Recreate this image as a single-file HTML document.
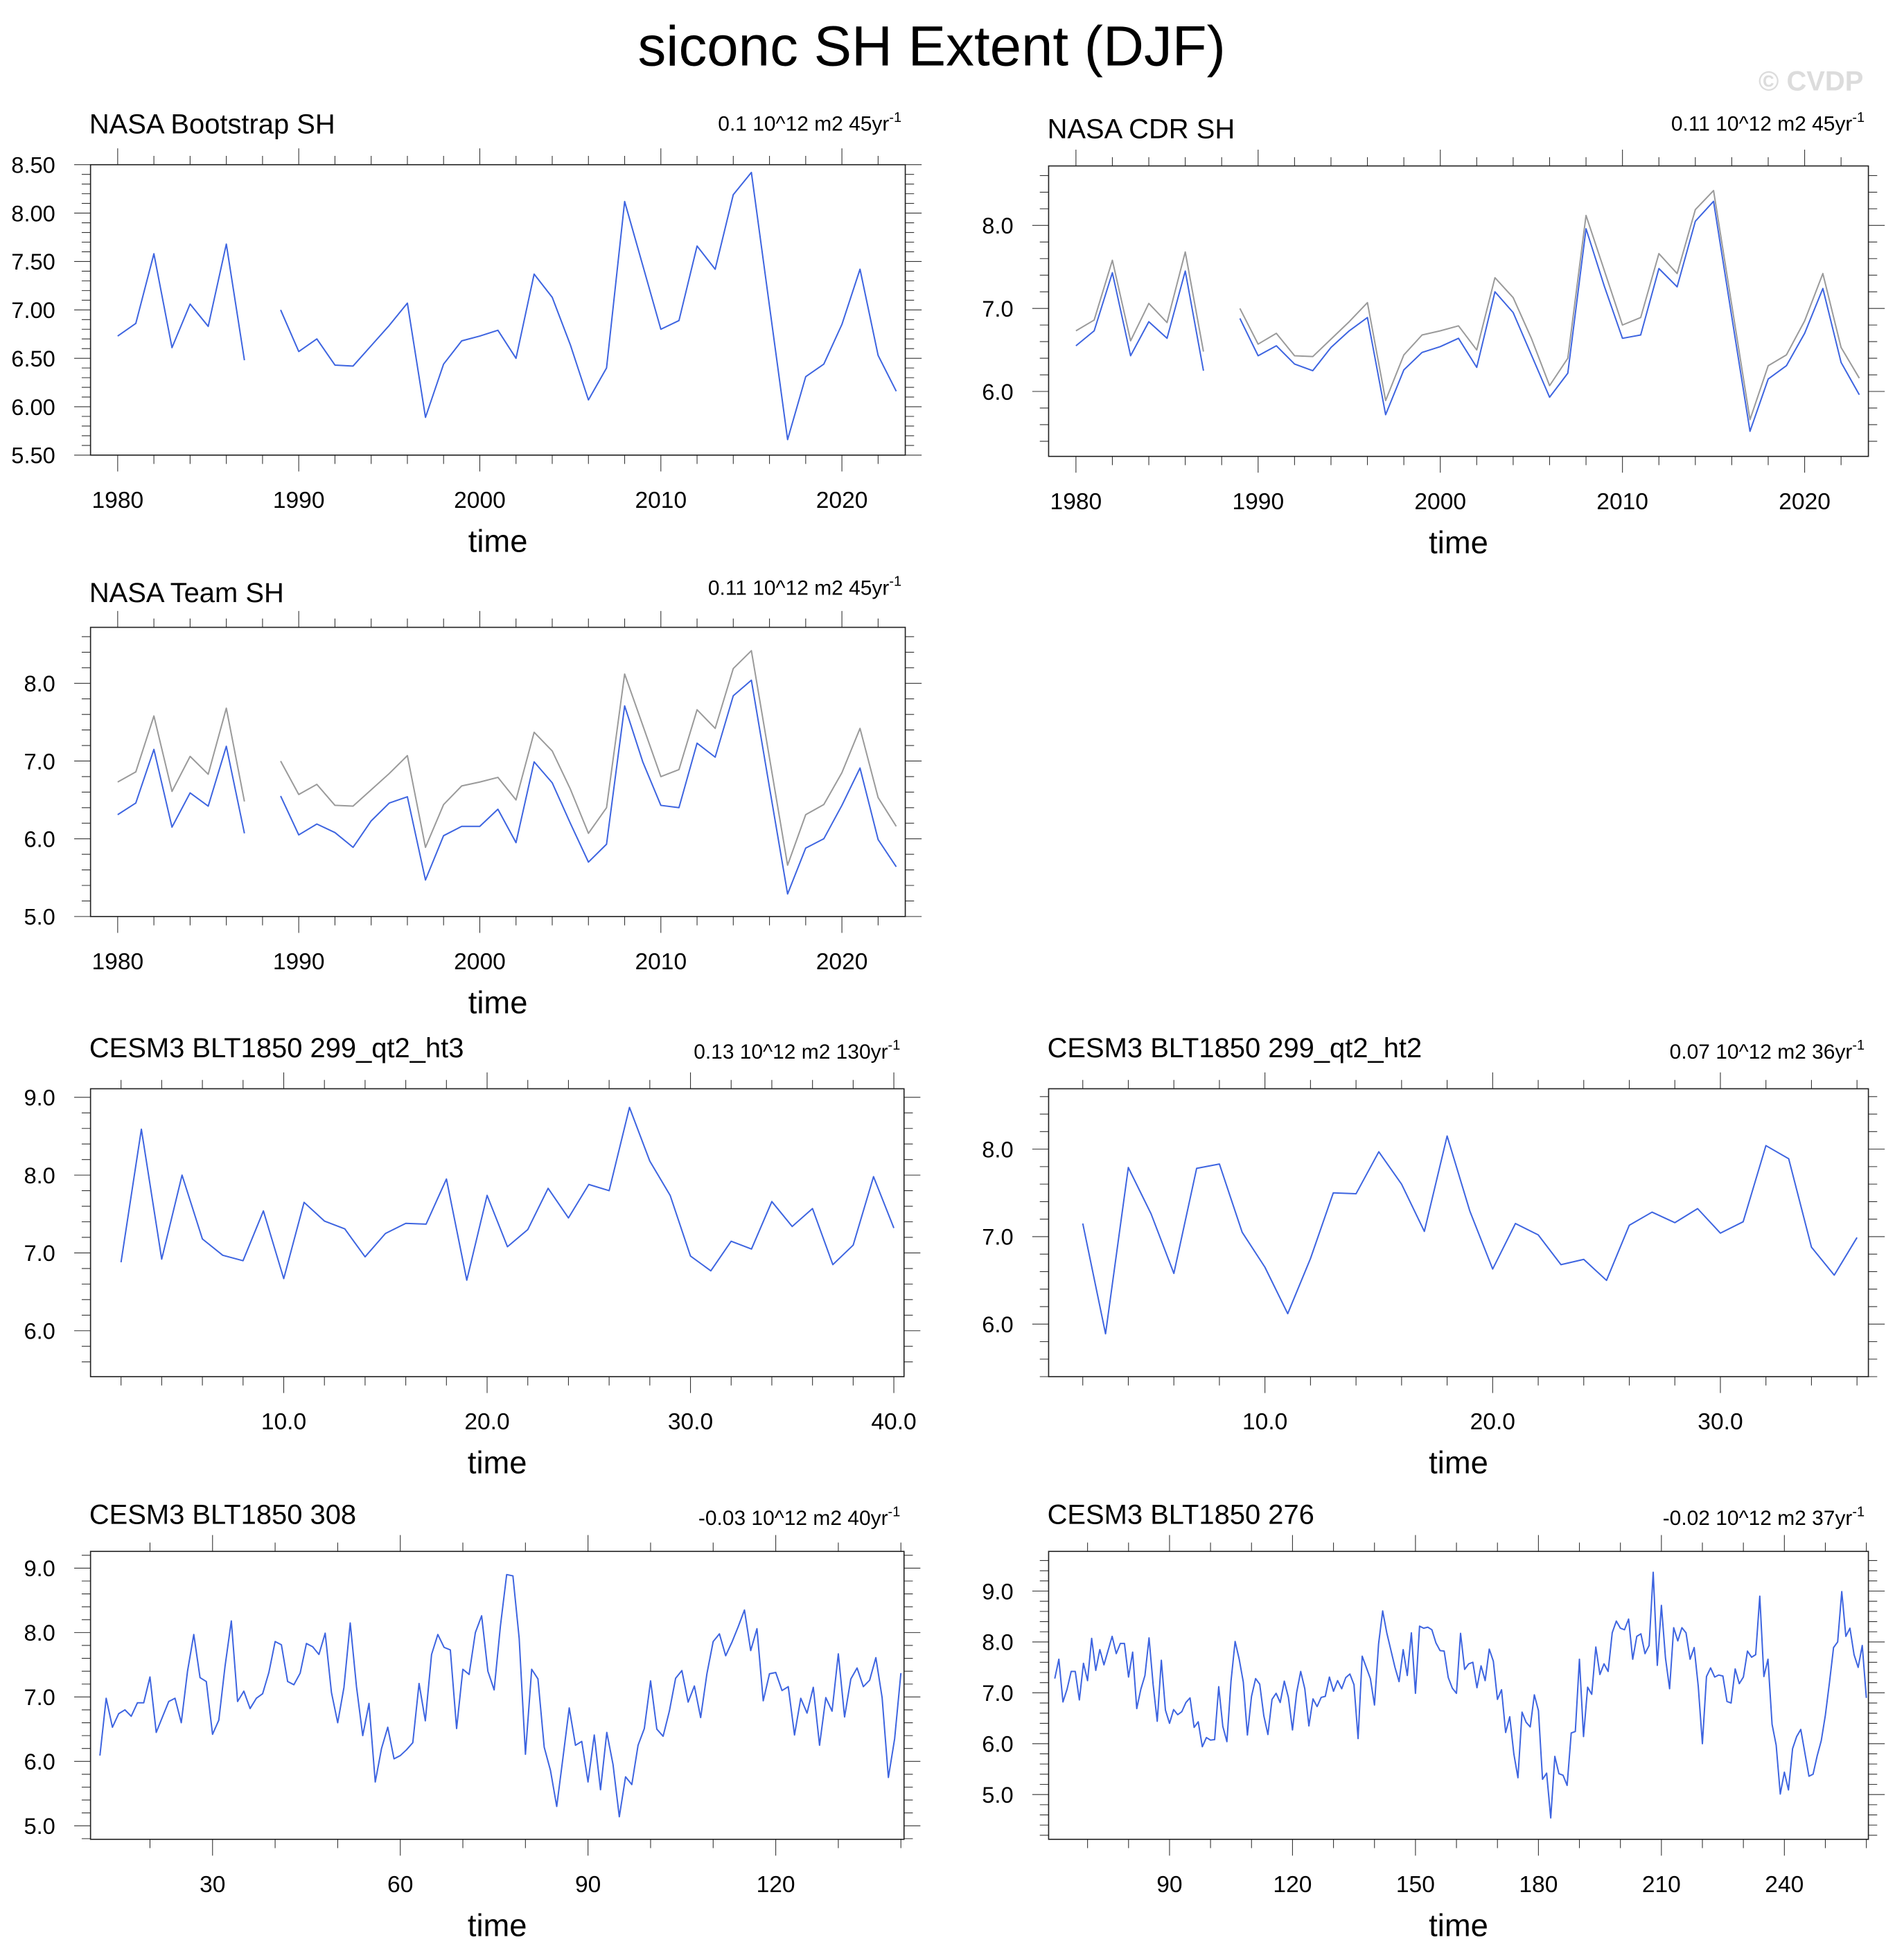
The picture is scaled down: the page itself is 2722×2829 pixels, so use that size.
<!DOCTYPE html>
<html><head><meta charset="utf-8"><title>siconc SH Extent (DJF)</title>
<style>
html,body{margin:0;padding:0;background:#fff;}
svg{display:block;font-family:"Liberation Sans",Arial,sans-serif;}
</style></head>
<body>
<svg id="fig" xmlns="http://www.w3.org/2000/svg" width="2722" height="2829" viewBox="0 0 1500 1559" preserveAspectRatio="none">
<rect x="0" y="0" width="1500" height="1559" fill="#fff"/>
<text x="741" y="52" font-size="45" text-anchor="middle" fill="#000">siconc SH Extent (DJF)</text>
<text x="1482" y="72" font-size="22" font-weight="bold" text-anchor="end" fill="#dcdcdc">© CVDP</text>
</svg>
<script>
// ---- data ----
const yearsStart = 1980;
const bootstrapVals = [6.73,6.86,7.58,6.61,7.06,6.83,7.68,6.48,null,7.00,6.57,6.70,6.43,6.42,6.63,6.84,7.07,5.89,6.44,6.68,6.73,6.79,6.50,7.37,7.13,6.64,6.07,6.40,8.12,7.46,6.80,6.89,7.66,7.42,8.19,8.42,7.04,5.66,6.31,6.44,6.85,7.42,6.53,6.16];
const cdrVals = [6.55,6.73,7.43,6.43,6.84,6.64,7.45,6.25,null,6.88,6.43,6.55,6.33,6.25,6.53,6.73,6.89,5.72,6.26,6.47,6.54,6.64,6.29,7.20,6.95,6.44,5.93,6.22,7.96,7.27,6.64,6.68,7.48,7.26,8.05,8.29,6.90,5.52,6.15,6.31,6.70,7.24,6.35,5.96];
const teamVals = [6.31,6.46,7.15,6.15,6.59,6.42,7.19,6.07,null,6.55,6.05,6.19,6.08,5.89,6.23,6.46,6.54,5.47,6.04,6.16,6.16,6.38,5.95,6.99,6.72,6.20,5.70,5.93,7.71,6.99,6.43,6.40,7.23,7.05,7.84,8.04,6.66,5.29,5.88,6.00,6.43,6.91,5.99,5.64];
const ht3Start = 2;
const ht3Vals = [6.88,8.59,6.92,8.00,7.18,6.97,6.90,7.54,6.67,7.65,7.41,7.31,6.95,7.25,7.38,7.37,7.95,6.65,7.74,7.08,7.30,7.83,7.45,7.88,7.80,8.87,8.18,7.74,6.96,6.77,7.15,7.05,7.66,7.34,7.57,6.85,7.10,7.98,7.32];
const ht2Start = 2;
const ht2Vals = [7.15,5.89,7.79,7.26,6.58,7.78,7.83,7.05,6.65,6.12,6.75,7.50,7.49,7.97,7.60,7.06,8.15,7.29,6.63,7.15,7.02,6.68,6.74,6.50,7.13,7.28,7.16,7.32,7.04,7.17,8.04,7.89,6.88,6.56,6.99];
const r308Start = 12;
const r308Vals = [6.09,6.98,6.53,6.74,6.80,6.70,6.91,6.91,7.31,6.45,
6.69,6.93,6.98,6.60,7.40,7.97,7.30,7.24,6.42,6.64,
7.48,8.18,6.93,7.09,6.82,6.98,7.05,7.38,7.86,7.81,
7.24,7.19,7.37,7.83,7.78,7.66,7.99,7.07,6.60,7.15,
8.15,7.16,6.40,6.90,5.68,6.20,6.53,6.04,6.09,6.18,
6.29,7.21,6.63,7.66,7.97,7.77,7.73,6.51,7.43,7.35,
8.00,8.26,7.40,7.11,8.10,8.90,8.88,7.91,6.11,7.43,
7.28,6.22,5.86,5.30,6.06,6.83,6.25,6.31,5.68,6.41,
5.56,6.45,5.95,5.14,5.76,5.64,6.25,6.51,7.25,6.50,
6.39,6.78,7.29,7.41,6.92,7.17,6.68,7.36,7.86,7.98,
7.64,7.85,8.09,8.35,7.72,8.06,6.94,7.36,7.38,7.10,
7.16,6.41,6.98,6.75,7.15,6.25,6.99,6.78,7.67,6.69,
7.28,7.45,7.16,7.26,7.61,6.99,5.75,6.35,7.37];
const r276Start = 62;
const r276Vals = [7.28,7.66,6.82,7.07,7.42,7.42,6.86,7.58,7.24,8.07,
7.44,7.85,7.55,7.83,8.11,7.77,7.97,7.97,7.31,7.80,
6.69,7.07,7.34,8.08,7.16,6.44,7.64,6.66,6.40,6.67,
6.57,6.63,6.81,6.90,6.32,6.43,5.94,6.12,6.07,6.08,
7.12,6.34,6.04,7.23,8.01,7.66,7.21,6.17,6.93,7.28,
7.17,6.55,6.18,6.87,6.99,6.81,7.23,6.91,6.27,7.00,
7.42,7.08,6.35,6.88,6.73,6.91,6.93,7.31,7.03,
7.24,7.08,7.30,7.37,7.16,6.10,7.72,7.50,7.28,6.76,
7.96,8.61,8.18,7.84,7.50,7.22,7.85,7.34,8.18,6.99,
8.31,8.27,8.29,8.24,7.98,7.83,7.82,7.30,7.09,6.99,
8.17,7.46,7.57,7.60,7.10,7.53,7.24,7.86,7.62,6.87,
7.06,6.22,6.53,5.80,5.33,6.62,6.42,6.33,6.96,6.65,
5.30,5.42,4.54,5.75,5.41,5.38,5.18,6.21,6.24,7.66,
6.14,7.11,6.97,7.90,7.36,7.57,7.42,8.18,
8.41,8.27,8.24,8.45,7.66,8.11,8.16,7.77,7.93,9.37,
7.54,8.72,7.68,7.08,8.28,8.02,8.28,8.18,7.66,7.89,
7.12,6.00,7.32,7.49,7.31,7.35,7.33,6.83,6.80,7.47,
7.18,7.31,7.82,7.70,7.75,8.90,7.32,7.66,6.38,5.97,
5.01,5.44,5.09,5.90,6.14,6.28,5.82,5.36,5.40,5.76,
6.06,6.56,7.20,7.89,8.00,8.99,8.11,8.27,7.75,7.50,
7.93,6.90];
// tick label arrays
const yearTicks = [1980,1990,2000,2010,2020];
const ht3Ticks = [10,20,30,40];
const ht2Ticks = [10,20,30];
const r308Ticks = [30,60,90,120];
const r276Ticks = [90,120,150,180,210,240];
const bootYTicks = [5.5,6.0,6.5,7.0,7.5,8.0,8.5];
const cdrYTicks = [6,7,8];
const teamYTicks = [5,6,7,8];
const ht3YTicks = [6,7,8,9];
const ht2YTicks = [6,7,8];
const longYTicks = [5,6,7,8,9];
const titles = ["NASA Bootstrap SH","NASA CDR SH","NASA Team SH","CESM3 BLT1850 299_qt2_ht3","CESM3 BLT1850 299_qt2_ht2","CESM3 BLT1850 308","CESM3 BLT1850 276"];
const trends = ["0.1 10^12 m2 45yr","0.11 10^12 m2 45yr","0.11 10^12 m2 45yr","0.13 10^12 m2 130yr","0.07 10^12 m2 36yr","-0.03 10^12 m2 40yr","-0.02 10^12 m2 37yr"];

const NS = "http://www.w3.org/2000/svg";
const svg = document.getElementById('fig');
const BLUE = "#3d64e0", GRAY = "#9a9a9a";

function el(tag, parent){ const e = document.createElementNS(NS, tag); parent.appendChild(e); return e; }

function panel(p){
  const g = el('g', svg);
  
  
  const X = v => p.box[0] + (v - p.xd[0]) / (p.xd[1] - p.xd[0]) * (p.box[2] - p.box[0]);
  const Y = v => p.box[3] - (v - p.yd[0]) / (p.yd[1] - p.yd[0]) * (p.box[3] - p.box[1]);
  const L = p.box[0], R = p.box[2], T = p.box[1], B = p.box[3];
  let d = "";
  const MJ = 13, MN = 7;
  for (let v = p.xMinorStart; v <= p.xd[1]; v += p.xMinor) {
    const x = X(v); const major = p.xTicks.some(t => Math.abs(t - v) < 1e-6); const len = major ? MJ : MN;
    d += `M${x},${T}V${T-len}M${x},${B}V${B+len}`;
  }
  const nMinor = Math.round((p.yd[1] - p.yd[0]) / p.yMinor) + 2;
  const y0 = Math.ceil((p.yd[0] - 1e-9) / p.yMinor) * p.yMinor;
  for (let i = 0; i < nMinor; i++) {
    const v = y0 + i * p.yMinor; if (v > p.yd[1] + 1e-9) break;
    const y = Y(v); const major = p.yTicks.some(t => Math.abs(t - v) < 1e-6); const len = major ? MJ : MN;
    d += `M${L},${y}H${L-len}M${R},${y}H${R+len}`;
  }
  const tk = el('path', g);
  
  
  tk.setAttribute('d', d); tk.setAttribute('stroke', '#333'); tk.setAttribute('stroke-width', '0.6'); tk.setAttribute('fill', 'none');
  p.series.forEach(s => {
    let path = "", pen = false;
    s.vals.forEach((v, i) => {
      if (v === null) { pen = false; return; }
      path += (pen ? "L" : "M") + X(s.start + i).toFixed(2) + "," + Y(v).toFixed(2); pen = true;
    });
    const ln = el('path', g);
    
    
    ln.setAttribute('d', path); ln.setAttribute('stroke', s.color); ln.setAttribute('stroke-width', '1.1'); ln.setAttribute('fill', 'none'); ln.setAttribute('stroke-linejoin', 'round');
  });
  const bx = el('rect', g);
  
  
  bx.setAttribute('x', L); bx.setAttribute('y', T); bx.setAttribute('width', R - L); bx.setAttribute('height', B - T);
  bx.setAttribute('fill', 'none'); bx.setAttribute('stroke', '#222'); bx.setAttribute('stroke-width', '0.9');
  p.yTicks.forEach(v => {
    const t = el('text', g);
    
    
    t.setAttribute('x', L - 28); t.setAttribute('y', Y(v) + 6.5); t.setAttribute('font-size', '18'); t.setAttribute('text-anchor', 'end');
    t.textContent = v.toFixed(p.yDec);
  });
  p.xTicks.forEach(v => {
    const t = el('text', g);
    
    
    t.setAttribute('x', X(v)); t.setAttribute('y', B + 42); t.setAttribute('font-size', '18.5'); t.setAttribute('text-anchor', 'middle');
    t.textContent = p.xDec ? v.toFixed(1) : String(v);
  });
  const xt = el('text', g);
  
  
  xt.setAttribute('x', (L + R) / 2); xt.setAttribute('y', B + 77); xt.setAttribute('font-size', '25'); xt.setAttribute('text-anchor', 'middle');
  xt.textContent = 'time';
  const tt = el('text', g);
  
  
  tt.setAttribute('x', L - 1); tt.setAttribute('y', p.titleY); tt.setAttribute('font-size', '22');
  tt.textContent = p.title;
  const tr = el('text', g);
  
  
  tr.setAttribute('x', R - 3); tr.setAttribute('y', p.trendY); tr.setAttribute('font-size', '16.5'); tr.setAttribute('text-anchor', 'end');
  tr.textContent = p.trend;
  const sup = el('tspan', tr);
  
  
  sup.setAttribute('font-size', '11'); sup.setAttribute('dy', '-7');
  sup.textContent = '-1';
}

panel({name:'panel-nasa-bootstrap', box:[72,131,720,362], xd:[1978.5,2023.5], yd:[5.5,8.5], xTicks:yearTicks, xMinor:2, xMinorStart:1980, yTicks:bootYTicks, yMinor:0.1, yDec:2, xDec:false,
  title:titles[0], trend:trends[0], titleY:106, trendY:104,
  series:[{name:'bootstrap-line', vals:bootstrapVals, start:yearsStart, color:BLUE}]});
panel({name:'panel-nasa-cdr', box:[834,132,1486,363], xd:[1978.5,2023.5], yd:[5.218,8.716], xTicks:yearTicks, xMinor:2, xMinorStart:1980, yTicks:cdrYTicks, yMinor:0.2, yDec:1, xDec:false,
  title:titles[1], trend:trends[1], titleY:110, trendY:104,
  series:[{name:'bootstrap-reference-line', vals:bootstrapVals, start:yearsStart, color:GRAY},{name:'cdr-line', vals:cdrVals, start:yearsStart, color:BLUE}]});
panel({name:'panel-nasa-team', box:[72,499,720,729], xd:[1978.5,2023.5], yd:[5.0,8.72], xTicks:yearTicks, xMinor:2, xMinorStart:1980, yTicks:teamYTicks, yMinor:0.2, yDec:1, xDec:false,
  title:titles[2], trend:trends[2], titleY:479, trendY:473,
  series:[{name:'bootstrap-reference-line', vals:bootstrapVals, start:yearsStart, color:GRAY},{name:'team-line', vals:teamVals, start:yearsStart, color:BLUE}]});
panel({name:'panel-cesm3-ht3', box:[72,866,719,1095], xd:[0.5,40.5], yd:[5.41,9.11], xTicks:ht3Ticks, xMinor:2, xMinorStart:2, yTicks:ht3YTicks, yMinor:0.2, yDec:1, xDec:true,
  title:titles[3], trend:trends[3], titleY:841, trendY:842,
  series:[{name:'ht3-line', vals:ht3Vals, start:ht3Start, color:BLUE}]});
panel({name:'panel-cesm3-ht2', box:[834,866,1486,1095], xd:[0.5,36.5], yd:[5.40,8.69], xTicks:ht2Ticks, xMinor:2, xMinorStart:2, yTicks:ht2YTicks, yMinor:0.2, yDec:1, xDec:true,
  title:titles[4], trend:trends[4], titleY:841, trendY:842,
  series:[{name:'ht2-line', vals:ht2Vals, start:ht2Start, color:BLUE}]});
panel({name:'panel-cesm3-308', box:[72,1234,719,1463], xd:[10.5,140.5], yd:[4.79,9.26], xTicks:r308Ticks, xMinor:10, xMinorStart:20, yTicks:longYTicks, yMinor:0.2, yDec:1, xDec:false,
  title:titles[5], trend:trends[5], titleY:1212, trendY:1213,
  series:[{name:'run308-line', vals:r308Vals, start:r308Start, color:BLUE}]});
panel({name:'panel-cesm3-276', box:[834,1234,1486,1463], xd:[60.5,260.5], yd:[4.12,9.78], xTicks:r276Ticks, xMinor:10, xMinorStart:70, yTicks:longYTicks, yMinor:0.2, yDec:1, xDec:false,
  title:titles[6], trend:trends[6], titleY:1212, trendY:1213,
  series:[{name:'run276-line', vals:r276Vals, start:r276Start, color:BLUE}]});
</script>
</body></html>
